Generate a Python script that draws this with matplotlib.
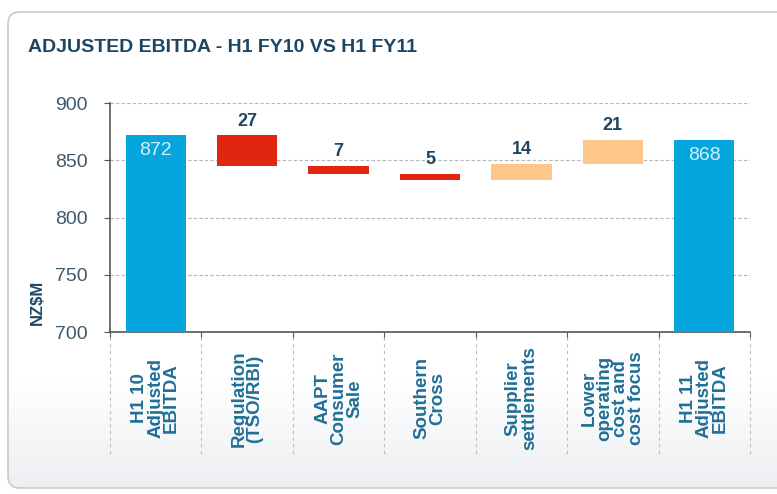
import matplotlib.pyplot as plt
import matplotlib.transforms as mtransforms
from matplotlib.patches import FancyBboxPatch
import numpy as np

# data
categories = ["H1 10\nAdjusted\nEBITDA", "Regulation\n(TSO/RBI)", "AAPT\nConsumer\nSale",
              "Southern\nCross", "Supplier\nsettlements", "Lower\noperating\ncost and\ncost focus",
              "H1 11\nAdjusted\nEBITDA"]
start_value = 872
deltas = [-27, -7, -5, 14, 21]
end_value = 868
y_ticks = [700, 750, 800, 850, 900]

title = "ADJUSTED EBITDA - H1 FY10 VS H1 FY11"

sans = ["Liberation Sans", "DejaVu Sans"]

c_total = "#05a6de"
c_neg = "#e1250e"
c_pos = "#fdc68b"
c_dark = "#1c4664"
c_lab = "#216f98"

fig = plt.figure(figsize=(7.77, 4.94), dpi=100)

# background panel with a soft gradient at the bottom
bg = fig.add_axes([0, 0, 1, 1])
bg.set_xlim(0, 777)
bg.set_ylim(494, 0)
bg.axis("off")
panel = FancyBboxPatch((8, 12), 800, 476, boxstyle="round,pad=0,rounding_size=12",
                       fc="none", ec="#c9c9c9", lw=1.2)
bg.add_patch(panel)
grad = np.ones((494, 1))
rows = np.arange(494)
grad[:, 0] = np.clip((rows - 380) / 110.0, 0, 1)
cmap = plt.matplotlib.colors.LinearSegmentedColormap.from_list("g", ["#ffffff", "#eceef1"])
im = bg.imshow(grad, cmap=cmap, extent=(0, 777, 494, 0), aspect="auto", zorder=0)
im.set_clip_path(panel)

fig.text(28 / 777, 1 - 47 / 494, title, va="center", ha="left", fontsize=14,
         fontweight="bold", color=c_dark, family=sans)

ax = fig.add_axes([110 / 777, 1 - 332 / 494, 640 / 777, 229 / 494])
ax.set_facecolor("none")

# waterfall geometry
n = len(categories)
x = np.arange(n)
level = start_value
bottoms, heights, colors = [start_value], [0], [c_total]
for d in deltas:
    new = level + d
    bottoms.append(min(level, new))
    heights.append(abs(d))
    colors.append(c_neg if d < 0 else c_pos)
    level = new

ax.bar(x[0], start_value, width=0.66, color=c_total, zorder=3)
ax.bar(x[-1], end_value, width=0.66, color=c_total, zorder=3)
ax.bar(x[1:-1], heights[1:], bottom=bottoms[1:], width=0.66, color=colors[1:], zorder=3)

ax.text(x[0], start_value - 6, str(start_value), ha="center", va="top", fontsize=14,
        color="#d7eef8", family=sans, zorder=4)
ax.text(x[-1], end_value - 6, str(end_value), ha="center", va="top", fontsize=14,
        color="#d7eef8", family=sans, zorder=4)
for i, d in enumerate(deltas):
    top = bottoms[i + 1] + heights[i + 1]
    ax.annotate(str(abs(d)), (x[i + 1], top), xytext=(0, 4), textcoords="offset points",
                ha="center", va="bottom", fontsize=13, fontweight="bold",
                color=c_dark, family=sans)

ax.set_xlim(-0.5, n - 0.5)
ax.set_ylim(700, 900)
ax.set_yticks(y_ticks)
ax.set_yticklabels([str(v) for v in y_ticks], fontsize=14, color="#3f5a6a", family=sans)
ax.tick_params(axis="y", length=4, color="#555555", pad=12)
ax.yaxis.grid(True, ls=(0, (3, 2)), color="#b5b5b5", lw=0.8, zorder=0)
ax.set_axisbelow(True)

bounds = np.arange(n + 1) - 0.5
ax.set_xticks(bounds)
ax.set_xticklabels([""] * len(bounds))
ax.tick_params(axis="x", length=5, color="#555555")

for s in ["top", "right"]:
    ax.spines[s].set_visible(False)
for s in ["left", "bottom"]:
    ax.spines[s].set_color("#555555")
    ax.spines[s].set_linewidth(1.2)

trans = mtransforms.blended_transform_factory(ax.transData, ax.transAxes)
for b in bounds:
    ax.plot([b, b], [-0.02, -0.54], transform=trans, ls=(0, (3, 3)), color="#bdbdbd",
            lw=0.8, clip_on=False)
for i, lab in enumerate(categories):
    ax.text(x[i], -0.29, lab, transform=trans, rotation=90, ha="center", va="center",
            multialignment="center", fontsize=13.5, fontweight="bold", color=c_lab,
            family=sans, linespacing=0.92)

fig.text(37 / 777, 1 - 302 / 494, "NZ$M", rotation=90, ha="center", va="center",
         fontsize=12, fontweight="bold", color=c_dark, family=sans)

fig.savefig("out.png", dpi=100)
